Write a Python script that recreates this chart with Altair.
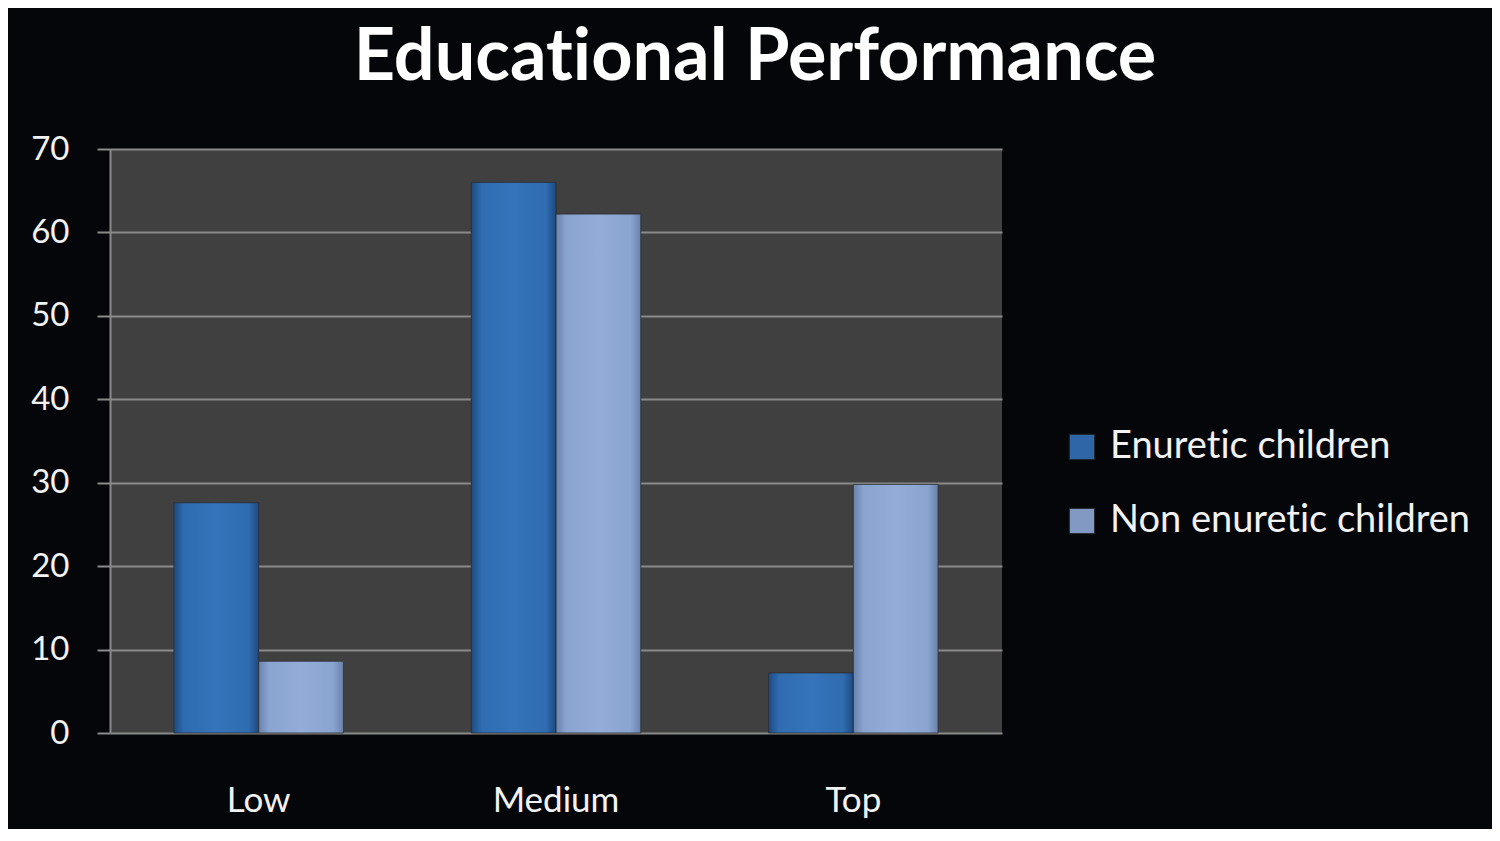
import altair as alt
import pandas as pd

categories = ["Low", "Medium", "Top"]
series = ["Enuretic children", "Non enuretic children"]
enuretic = [27.6, 66, 7.2]
non_enuretic = [8.6, 62.2, 29.8]

rows = []
for c, a, b in zip(categories, enuretic, non_enuretic):
    rows.append({"category": c, "series": series[0], "value": a})
    rows.append({"category": c, "series": series[1], "value": b})
df = pd.DataFrame(rows)

grad_a = {
    "gradient": "linear", "x1": 0, "x2": 1, "y1": 0, "y2": 0,
    "stops": [
        {"offset": 0, "color": "#1d4a82"},
        {"offset": 0.12, "color": "#2f6cb0"},
        {"offset": 0.5, "color": "#3574bb"},
        {"offset": 0.88, "color": "#2f6cb0"},
        {"offset": 1, "color": "#1d4a82"},
    ],
}
grad_b = {
    "gradient": "linear", "x1": 0, "x2": 1, "y1": 0, "y2": 0,
    "stops": [
        {"offset": 0, "color": "#6a82ac"},
        {"offset": 0.12, "color": "#8aa4d0"},
        {"offset": 0.5, "color": "#93acd8"},
        {"offset": 0.88, "color": "#8aa4d0"},
        {"offset": 1, "color": "#6a82ac"},
    ],
}

FONT = "Lato"

x_enc = alt.X("category:N", sort=categories,
              scale=alt.Scale(paddingInner=0.43, paddingOuter=0.215),
              axis=alt.Axis(title=None, labelAngle=0, ticks=False, domain=False,
                            labelPadding=50, labelFontSize=35, labelColor="#f2f2f2",
                            labelFont=FONT, grid=False))
xo_enc = alt.XOffset("series:N", sort=series, scale=alt.Scale(paddingInner=0, paddingOuter=0))
y_enc = alt.Y("value:Q", scale=alt.Scale(domain=[0, 70]),
              axis=alt.Axis(title=None, values=[0, 10, 20, 30, 40, 50, 60, 70],
                            tickSize=13, tickColor="#8a8a8a", tickWidth=2,
                            domainColor="#8a8a8a", domainWidth=2,
                            gridColor="#8a8a8a", gridWidth=2,
                            labelPadding=28, labelFontSize=33, labelColor="#f2f2f2",
                            labelFont=FONT))

base = alt.Chart(df).mark_bar().encode(
    x=x_enc, xOffset=xo_enc, y=y_enc,
    color=alt.Color("series:N", sort=series,
                    scale=alt.Scale(domain=series, range=["#2f66a8", "#8299c4"]),
                    legend=alt.Legend(title=None, orient="none", legendX=953, legendY=279,
                                      symbolType="square", symbolSize=640,
                                      symbolStrokeColor="#222", symbolStrokeWidth=1,
                                      labelFontSize=38, labelColor="#f2f2f2", labelFont=FONT,
                                      labelExpr="replace(datum.label, 'ti', 't\u200ci')",
                                      rowPadding=36, labelOffset=9, labelLimit=500)),
)

grad = alt.Chart(df).mark_bar(stroke="#2a2a2a", strokeWidth=0.8).encode(
    x=x_enc, xOffset=xo_enc, y=y_enc,
    fill=alt.condition(alt.datum.series == series[0], alt.value(grad_a), alt.value(grad_b)),
)

chart = alt.layer(base, grad).properties(
    width=892, height=584,
    title=alt.TitleParams("Educat\u200cional Performance", fontSize=72, font=FONT, fontWeight="bold",
                          color="#ffffff", anchor="middle", frame="group", dx=199, offset=38),
    autosize=alt.AutoSizeParams(type="none"),
    padding={"left": 102, "top": 141, "right": 490, "bottom": 96},
).configure(background="#05060a").configure_view(fill="#404040", stroke=None)

chart.save("out.html", embed_options={"renderer": "svg", "actions": False})
